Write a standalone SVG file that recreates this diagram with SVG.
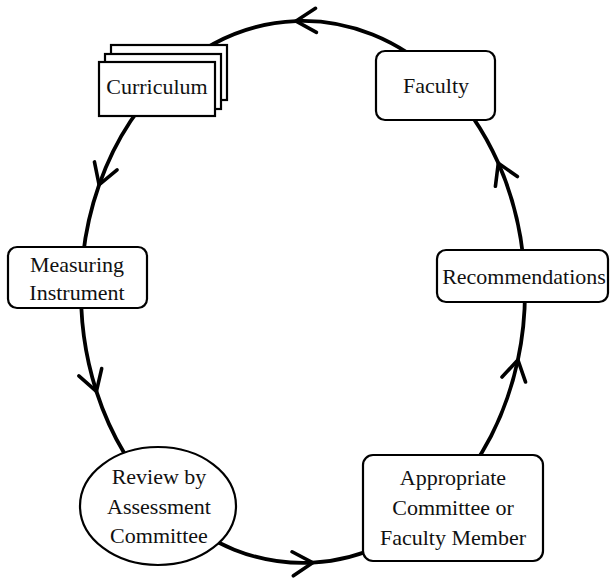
<svg xmlns="http://www.w3.org/2000/svg" width="611" height="578" viewBox="0 0 611 578">
<style>
.link{fill:none;stroke:#000;stroke-width:3.8;marker-mid:url(#chev)}
.box{fill:#fff;stroke:#000;stroke-width:2.2}
.lbl{font-family:'Liberation Serif','Times New Roman',serif;font-size:22px;fill:#111;text-anchor:middle}
</style>
<defs>
<marker id="chev" markerUnits="userSpaceOnUse" markerWidth="32" markerHeight="32" refX="0" refY="0" viewBox="-24 -16 28 32" orient="auto" overflow="visible">
<path d="M -20 -12 L 0 0 L -20 12" fill="none" stroke="#000" stroke-width="3.6" stroke-linecap="round" stroke-linejoin="miter"/>
</marker>
</defs>
<rect width="611" height="578" fill="#fff"/>
<g id="connectors">
<path class="link" d="M 175.1 70.6 A 222 271 0 0 0 99.1 184.8 A 222 271 0 0 0 81.3 278.3"/>
<path class="link" d="M 81.3 278.3 A 222 271 0 0 0 96.4 391.3 A 222 271 0 0 0 164.5 503.8"/>
<path class="link" d="M 164.5 503.8 A 222 271 0 0 0 312.7 562.7 A 222 271 0 0 0 446.6 498.7"/>
<path class="link" d="M 446.6 498.7 A 222 271 0 0 0 517.9 359.9 A 222 271 0 0 0 524.6 275.9"/>
<path class="link" d="M 524.6 275.9 A 222 271 0 0 0 498.3 163.1 A 222 271 0 0 0 440.6 79.3"/>
<path class="link" d="M 440.6 79.3 A 222 271 0 0 0 296 21.1 A 222 271 0 0 0 175.1 70.6"/>
</g>
<g id="curriculum">
<rect class="box" x="111" y="45" width="116" height="55"/>
<rect class="box" x="105" y="54" width="116" height="55"/>
<rect class="box" x="99" y="62" width="116" height="54"/>
<text class="lbl" font-family="Liberation Serif, serif" x="157" y="94">Curriculum</text>
</g>
<g id="faculty">
<rect class="box" x="376" y="51" width="119" height="69" rx="9"/>
<text class="lbl" font-family="Liberation Serif, serif" x="436" y="93">Faculty</text>
</g>
<g id="measuring">
<rect class="box" x="8" y="247" width="139" height="61" rx="9"/>
<text class="lbl" font-family="Liberation Serif, serif" x="77" y="272">Measuring</text>
<text class="lbl" font-family="Liberation Serif, serif" x="77" y="300">Instrument</text>
</g>
<g id="recommendations">
<rect class="box" x="437" y="250" width="171" height="52" rx="9"/>
<text class="lbl" font-family="Liberation Serif, serif" x="524" y="284">Recommendations</text>
</g>
<g id="review">
<ellipse class="box" cx="158" cy="506" rx="78" ry="59"/>
<text class="lbl" font-family="Liberation Serif, serif" x="159" y="484">Review by</text>
<text class="lbl" font-family="Liberation Serif, serif" x="159" y="514">Assessment</text>
<text class="lbl" font-family="Liberation Serif, serif" x="159" y="543">Committee</text>
</g>
<g id="appropriate">
<rect class="box" x="363" y="455" width="180" height="106" rx="10"/>
<text class="lbl" font-family="Liberation Serif, serif" x="453" y="485">Appropriate</text>
<text class="lbl" font-family="Liberation Serif, serif" x="453" y="515">Committee or</text>
<text class="lbl" font-family="Liberation Serif, serif" x="453" y="545">Faculty Member</text>
</g>
</svg>
